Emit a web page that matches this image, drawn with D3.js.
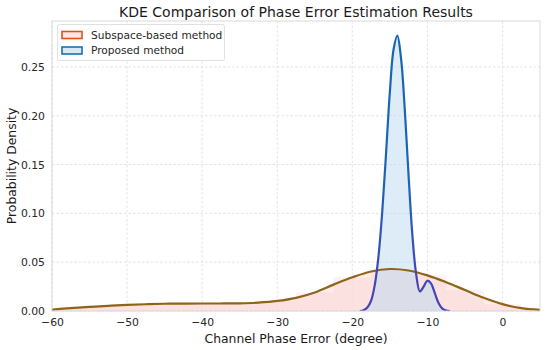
<!DOCTYPE html>
<html>
<head>
<meta charset="utf-8">
<script src="https://cdn.jsdelivr.net/npm/d3@7"></script>
<style>
  html, body { margin: 0; padding: 0; background: #fff; }
  svg { display: block; font-family: "DejaVu Sans", sans-serif; }
</style>
</head>
<body>
<svg id="chart" width="550" height="350"></svg>
<script>
// ---- data ----
const seriesNames = ["Subspace-based method", "Proposed method"];
const subspaceX = [-60, -57.5, -55, -52.5, -50, -47.5, -45, -42.5, -40, -37.5, -35, -32.5, -30, -27.5, -25, -22.5, -20, -17.5, -15, -12.5, -10, -7.5, -5, -2.5, 0, 2.5, 5];
const subspaceY = [0.0015, 0.003, 0.0042, 0.0053, 0.0062, 0.0069, 0.0074, 0.0076, 0.0077, 0.0077, 0.0079, 0.0086, 0.0103, 0.0135, 0.019, 0.027, 0.0345, 0.0405, 0.043, 0.0415, 0.0365, 0.0295, 0.0215, 0.0135, 0.007, 0.003, 0.0012];
const proposedX = [-19, -18.5, -18, -17.5, -17, -16.5, -16, -15.5, -15, -14.5, -14, -13.5, -13, -12.5, -12, -11.5, -11, -10.5, -10, -9.5, -9, -8.5, -8, -7.5, -7];
const proposedY = [0, 0.0008, 0.0035, 0.0105, 0.027, 0.057, 0.103, 0.162, 0.224, 0.268, 0.282, 0.258, 0.205, 0.138, 0.078, 0.038, 0.020, 0.025, 0.031, 0.028, 0.018, 0.008, 0.0025, 0.0005, 0];
const xTicks = [-60, -50, -40, -30, -20, -10, 0];
const yTicks = [0, 0.05, 0.10, 0.15, 0.20, 0.25];
const xDomain = [-60, 5];
const yDomain = [0, 0.297];
const titleText = "KDE Comparison of Phase Error Estimation Results";
const xLabel = "Channel Phase Error (degree)";
const yLabel = "Probability Density";

// ---- layout ----
const svg = d3.select("#chart");
const m = { left: 52, right: 10, top: 21, bottom: 39 };
const W = 550, H = 350;
const x = d3.scaleLinear().domain(xDomain).range([m.left, W - m.right]);
const y = d3.scaleLinear().domain(yDomain).range([H - m.bottom, m.top]);

const sub = subspaceX.map((v, i) => ({ x: v, y: subspaceY[i] }));
const pro = proposedX.map((v, i) => ({ x: v, y: proposedY[i] }));

const defs = svg.append("defs");
defs.append("clipPath").attr("id", "clip").append("rect")
  .attr("x", m.left).attr("y", m.top)
  .attr("width", W - m.left - m.right).attr("height", H - m.top - m.bottom);

const g = defs.append("linearGradient").attr("id", "propGrad")
  .attr("gradientUnits", "userSpaceOnUse")
  .attr("x1", 0).attr("x2", 0).attr("y1", y(0.28)).attr("y2", y(0));
[[0, "#1766b4"], [0.55, "#1c64b6"], [0.8, "#3a4cb8"], [1, "#4a40b6"]]
  .forEach(([o, c]) => g.append("stop").attr("offset", o).attr("stop-color", c));

// grid
const grid = svg.append("g");
grid.selectAll(".gx").data(xTicks).join("line")
  .attr("x1", d => x(d)).attr("x2", d => x(d))
  .attr("y1", m.top).attr("y2", H - m.bottom)
  .attr("stroke", "#dcdcdc").attr("stroke-width", 0.8).attr("stroke-dasharray", "2.5,2");
grid.selectAll(".gy").data(yTicks).join("line")
  .attr("x1", m.left).attr("x2", W - m.right)
  .attr("y1", d => y(d)).attr("y2", d => y(d))
  .attr("stroke", "#dcdcdc").attr("stroke-width", 0.8).attr("stroke-dasharray", "2.5,2");

const plot = svg.append("g").attr("clip-path", "url(#clip)");

// faint stepped bands
const stepArea = d3.area().x(d => x(d.x)).y0(y(0)).y1(d => y(d.y)).curve(d3.curveStep);
plot.append("path").datum(sub.filter((d, i) => i % 2 === 0))
  .attr("d", stepArea).attr("fill", "#fde6ee").attr("opacity", 0.6);

// areas
const area = d3.area().x(d => x(d.x)).y0(y(0)).y1(d => y(d.y)).curve(d3.curveCatmullRom);
plot.append("path").datum(sub).attr("d", area)
  .attr("fill", "#f8cdc2").attr("fill-opacity", 0.4);
plot.append("path").datum(pro).attr("d", area)
  .attr("fill", "#bcdaf0").attr("fill-opacity", 0.5);

// lines
const line = d3.line().x(d => x(d.x)).y(d => y(d.y)).curve(d3.curveCatmullRom);
plot.append("path").datum(sub).attr("d", line)
  .attr("fill", "none").attr("stroke", "#8e6418").attr("stroke-width", 2.2);
plot.append("path").datum(pro).attr("d", line)
  .attr("fill", "none").attr("stroke", "url(#propGrad)").attr("stroke-width", 2.2);

// frame
svg.append("rect").attr("x", m.left).attr("y", m.top)
  .attr("width", W - m.left - m.right).attr("height", H - m.top - m.bottom)
  .attr("fill", "none").attr("stroke", "#d6d6d6").attr("stroke-width", 0.9);

// axes
const xAxis = svg.append("g").attr("transform", `translate(0,${H - m.bottom})`)
  .call(d3.axisBottom(x).tickValues(xTicks).tickSize(0).tickPadding(7).tickFormat(d3.format("d")));
const yAxis = svg.append("g").attr("transform", `translate(${m.left},0)`)
  .call(d3.axisLeft(y).tickValues(yTicks).tickSize(0).tickPadding(7).tickFormat(d3.format(".2f")));
[xAxis, yAxis].forEach(a => {
  a.select(".domain").remove();
  a.selectAll("text").attr("font-size", 10.8).attr("fill", "#262626")
    .attr("font-family", "DejaVu Sans, sans-serif");
});

// labels
svg.append("text").attr("x", (m.left + W - m.right) / 2).attr("y", 17)
  .attr("text-anchor", "middle").attr("font-size", 14).attr("fill", "#1a1a1a").text(titleText);
svg.append("text").attr("x", (m.left + W - m.right) / 2).attr("y", 343)
  .attr("text-anchor", "middle").attr("font-size", 12.4).attr("fill", "#1a1a1a").text(xLabel);
svg.append("text").attr("transform", `translate(16,${(m.top + H - m.bottom) / 2}) rotate(-90)`)
  .attr("text-anchor", "middle").attr("font-size", 12.4).attr("fill", "#1a1a1a").text(yLabel);

// legend
const leg = svg.append("g");
leg.append("rect").attr("x", 57.5).attr("y", 24.5).attr("width", 167).attr("height", 36).attr("rx", 2)
  .attr("fill", "#fff").attr("fill-opacity", 0.85).attr("stroke", "#d9d9d9").attr("stroke-width", 0.8);
const legColors = [["#e0501e", "#fde8dd"], ["#1b6fae", "#dce9f5"]];
seriesNames.forEach((name, i) => {
  const cy = 35 + i * 15.5;
  leg.append("rect").attr("x", 62).attr("y", cy - 3.5).attr("width", 20).attr("height", 7)
    .attr("fill", legColors[i][1]).attr("stroke", legColors[i][0]).attr("stroke-width", 1.6);
  leg.append("text").attr("x", 91).attr("y", cy + 3.7).attr("font-size", 10.6)
    .attr("fill", "#262626").text(name);
});
</script>
</body>
</html>
